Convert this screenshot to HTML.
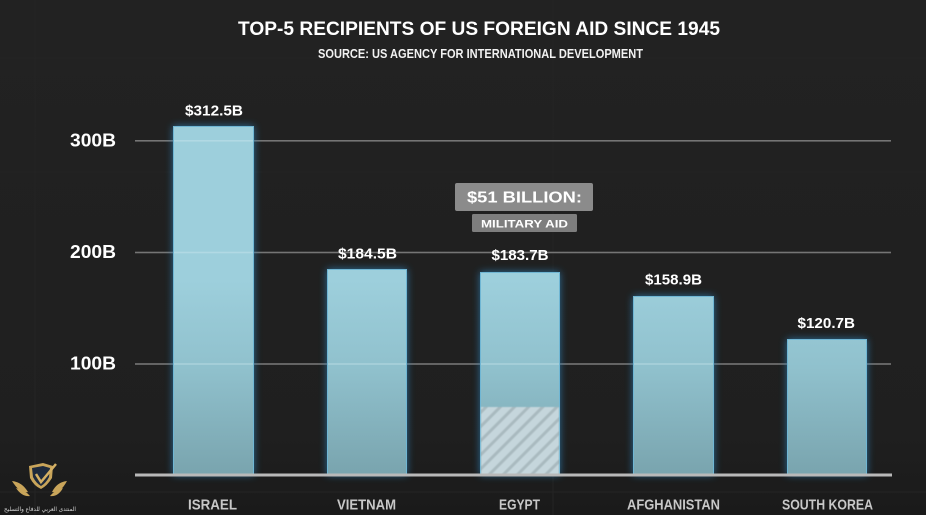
<!DOCTYPE html>
<html>
<head>
<meta charset="utf-8">
<style>
  html,body{margin:0;padding:0;background:#212121;}
  body{width:926px;height:515px;overflow:hidden;}
  svg{display:block;}
  text{font-family:"Liberation Sans","DejaVu Sans",sans-serif;font-weight:bold;}
</style>
</head>
<body>
<svg width="926" height="515" viewBox="0 0 926 515" xmlns="http://www.w3.org/2000/svg">
  <defs>
    <linearGradient id="bg" x1="0" y1="0" x2="0" y2="515" gradientUnits="userSpaceOnUse">
      <stop offset="0" stop-color="#222222"/>
      <stop offset="0.85" stop-color="#1f1f1f"/>
      <stop offset="1" stop-color="#1a1a1a"/>
    </linearGradient>
    <linearGradient id="bar" x1="0" y1="280" x2="0" y2="475" gradientUnits="userSpaceOnUse">
      <stop offset="0" stop-color="#9dcfdc"/>
      <stop offset="0.45" stop-color="#90c1cd"/>
      <stop offset="1" stop-color="#79a4ae"/>
    </linearGradient>
    <pattern id="hatch" width="10" height="10" patternUnits="userSpaceOnUse" patternTransform="rotate(45)">
      <rect width="10" height="10" fill="#c5d6dc"/>
      <rect x="0" y="0" width="3" height="10" fill="#a9babf"/>
    </pattern>
    <filter id="glow" x="-30%" y="-30%" width="160%" height="160%">
      <feGaussianBlur stdDeviation="4"/>
    </filter>
    <filter id="soft" x="-10%" y="-10%" width="120%" height="120%">
      <feGaussianBlur stdDeviation="0.6"/>
    </filter>
  </defs>

  <rect x="0" y="0" width="926" height="515" fill="url(#bg)"/>

  <!-- faint texture grid -->
  <g stroke="#242424" stroke-width="1">
    <line x1="0" y1="58" x2="926" y2="58"/>
    <line x1="0" y1="172" x2="926" y2="172"/>
    <line x1="0" y1="492" x2="926" y2="492"/>
    <line x1="35" y1="0" x2="35" y2="515"/>
    <line x1="553" y1="0" x2="553" y2="515"/>
  </g>

  <!-- title -->
  <text x="238" y="35" font-size="19" fill="#ffffff" textLength="482" lengthAdjust="spacingAndGlyphs">TOP-5 RECIPIENTS OF US FOREIGN AID SINCE 1945</text>
  <text x="318" y="58" font-size="12.5" fill="#f2f2f2" textLength="325" lengthAdjust="spacingAndGlyphs">SOURCE: US AGENCY FOR INTERNATIONAL DEVELOPMENT</text>

  <!-- gridlines behind -->
  <g fill="#757575">
    <rect x="135" y="140" width="756" height="1.6"/>
    <rect x="135" y="251.7" width="756" height="1.6"/>
    <rect x="135" y="363.2" width="756" height="1.6"/>
  </g>

  <!-- y-axis labels -->
  <g font-size="18" fill="#ffffff" text-anchor="end">
    <text x="116" y="146.5" textLength="46" lengthAdjust="spacingAndGlyphs">300B</text>
    <text x="116" y="258" textLength="46" lengthAdjust="spacingAndGlyphs">200B</text>
    <text x="116" y="369.5" textLength="46" lengthAdjust="spacingAndGlyphs">100B</text>
  </g>

  <!-- glows -->
  <g fill="#2f86bf" opacity="0.75" filter="url(#glow)">
    <rect x="173" y="126" width="81" height="349"/>
    <rect x="327" y="269" width="80" height="206"/>
    <rect x="480" y="272" width="80" height="203"/>
    <rect x="633" y="296" width="81" height="179"/>
    <rect x="787" y="339" width="80" height="136"/>
  </g>

  <!-- bars -->
  <g fill="url(#bar)" stroke="#6fb6d4" stroke-width="1">
    <rect x="173.5" y="126.5" width="80" height="348.5"/>
    <rect x="327.5" y="269.5" width="79" height="205.5"/>
    <rect x="480.5" y="272.5" width="79" height="202.5"/>
    <rect x="633.5" y="296.5" width="80" height="178.5"/>
    <rect x="787.5" y="339.5" width="79" height="135.5"/>
  </g>
  <!-- egypt military hatch -->
  <rect x="481" y="407" width="78" height="68" fill="url(#hatch)" filter="url(#soft)"/>

  <!-- gridlines over bars (light) -->
  <g fill="#d8eef4" opacity="0.35">
    <rect x="174" y="140" width="79" height="1.6"/>
    <rect x="174" y="251.7" width="79" height="1.6"/>
    <rect x="174" y="363.2" width="79" height="1.6"/>
    <rect x="328" y="363.2" width="78" height="1.6"/>
    <rect x="481" y="363.2" width="78" height="1.6"/>
    <rect x="634" y="363.2" width="79" height="1.6"/>
  </g>

  <!-- baseline -->
  <rect x="135" y="473.5" width="757" height="3" fill="#b9b9b9"/>

  <!-- value labels -->
  <g font-size="15" fill="#ffffff">
    <text x="185" y="115.5" textLength="58" lengthAdjust="spacingAndGlyphs">$312.5B</text>
    <text x="338" y="258.5" textLength="59" lengthAdjust="spacingAndGlyphs">$184.5B</text>
    <text x="491.5" y="260" textLength="57" lengthAdjust="spacingAndGlyphs">$183.7B</text>
    <text x="645" y="284.5" textLength="57" lengthAdjust="spacingAndGlyphs">$158.9B</text>
    <text x="797.5" y="328" textLength="57.5" lengthAdjust="spacingAndGlyphs">$120.7B</text>
  </g>

  <!-- annotation -->
  <rect x="455" y="183" width="138" height="28" rx="2" fill="#8b8b8b"/>
  <text x="467" y="202.5" font-size="16" fill="#ffffff" textLength="115" lengthAdjust="spacingAndGlyphs">$51 BILLION:</text>
  <rect x="472" y="214" width="105" height="18" rx="1.5" fill="#7e7e7e"/>
  <text x="481" y="227.5" font-size="11" fill="#ffffff" textLength="87" lengthAdjust="spacingAndGlyphs">MILITARY AID</text>

  <!-- category labels -->
  <g font-size="15" fill="#c8c8c8">
    <text x="188" y="509.5" textLength="49" lengthAdjust="spacingAndGlyphs">ISRAEL</text>
    <text x="337" y="509.5" textLength="59" lengthAdjust="spacingAndGlyphs">VIETNAM</text>
    <text x="499" y="509.5" textLength="41" lengthAdjust="spacingAndGlyphs">EGYPT</text>
    <text x="627" y="509.5" textLength="93" lengthAdjust="spacingAndGlyphs">AFGHANISTAN</text>
    <text x="782" y="509.5" textLength="91" lengthAdjust="spacingAndGlyphs">SOUTH KOREA</text>
  </g>

  <!-- logo -->
  <g>
    <path d="M29,466 L43,463 L53,466 L52,478 Q47,486 41,489 Q34,486 30,478 Z" fill="#c9a55a"/>
    <path d="M32,468 L43,466 L50,468 L49,477 Q46,483 41,486 Q36,483 33,477 Z" fill="#1e2a3c"/>
    <path d="M36,474 L41,482 L56,464" stroke="#d4b064" stroke-width="2.5" fill="none"/>
    <path d="M12,481 Q22,482 28,492 Q20,494 12,481 Z" fill="#c9a55a"/>
    <path d="M16,488 Q25,490 30,496 Q22,497 16,488 Z" fill="#c9a55a"/>
    <path d="M67,481 Q57,482 52,492 Q60,494 67,481 Z" fill="#c9a55a"/>
    <path d="M63,488 Q55,490 50,496 Q58,497 63,488 Z" fill="#c9a55a"/>
    <text x="40" y="511" font-size="6" fill="#d8d8d8" text-anchor="middle" textLength="72" lengthAdjust="spacingAndGlyphs" style="font-family:'DejaVu Sans',sans-serif;font-weight:normal;">المنتدى العربي للدفاع والتسليح</text>
  </g>
</svg>
</body>
</html>
